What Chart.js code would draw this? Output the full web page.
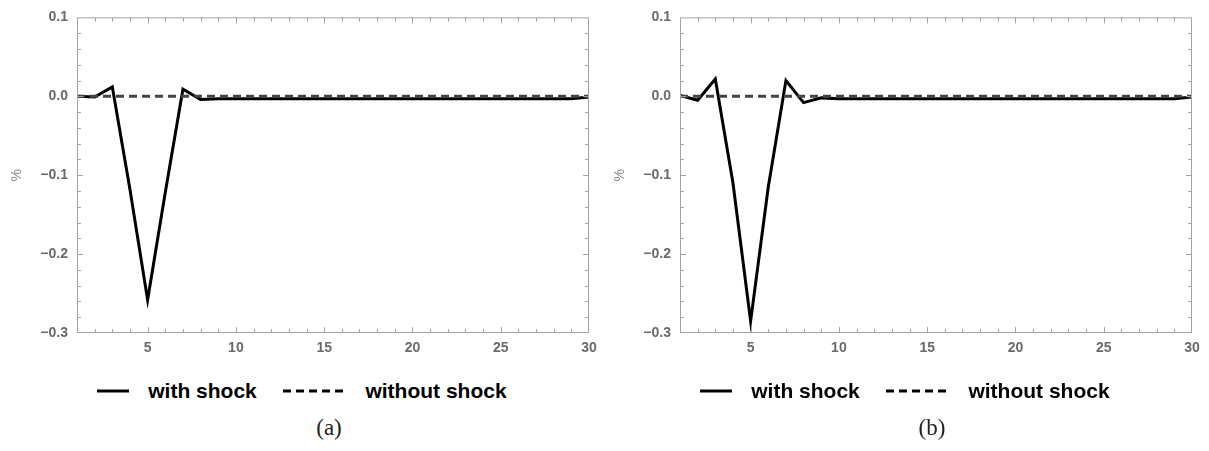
<!DOCTYPE html>
<html>
<head>
<meta charset="utf-8">
<script src="https://cdn.jsdelivr.net/npm/chart.js@4.4.0/dist/chart.umd.min.js"></script>
<style>
  body { margin: 0; background: #fff; width: 1209px; height: 451px; overflow: hidden; position: relative; }
  .panel { position: absolute; top: 0; width: 604px; height: 451px; }
  .panel canvas { position: absolute; left: 0; top: 0; }
  .legend { position: absolute; top: 378px; left: 0; width: 604px; text-align: center;
    font: bold 21px "Liberation Sans", Arial, sans-serif; color: #000; white-space: nowrap; }
  .legend span { display: inline-block; vertical-align: middle; }
  .legend svg { vertical-align: middle; }
  .caption { position: absolute; top: 415px; left: 0; width: 658px; text-align: center;
    font: 23px "Liberation Serif", "DejaVu Serif", serif; color: #222; }
</style>
</head>
<body>
<div class="panel" id="pa" style="left:0">
  <canvas id="chartA" width="604" height="360"></canvas>
  <div class="legend">
    <svg width="32" height="6"><line x1="0" y1="3" x2="32" y2="3" stroke="#000" stroke-width="3"/></svg>
    <span style="margin:0 20px 0 13px">with shock</span>
    <svg width="61" height="6"><line x1="0" y1="3" x2="61" y2="3" stroke="#000" stroke-width="3" stroke-dasharray="8 5"/></svg>
    <span style="margin-left:16px">without shock</span>
  </div>
  <div class="caption">(a)</div>
</div>
<div class="panel" id="pb" style="left:603px">
  <canvas id="chartB" width="604" height="360"></canvas>
  <div class="legend">
    <svg width="32" height="6"><line x1="0" y1="3" x2="32" y2="3" stroke="#000" stroke-width="3"/></svg>
    <span style="margin:0 20px 0 13px">with shock</span>
    <svg width="61" height="6"><line x1="0" y1="3" x2="61" y2="3" stroke="#000" stroke-width="3" stroke-dasharray="8 5"/></svg>
    <span style="margin-left:16px">without shock</span>
  </div>
  <div class="caption">(b)</div>
</div>
<script>
// periods 1..30
var periods = [1, 2, 3, 4, 5, 6, 7, 8, 9, 10, 11, 12, 13, 14, 15,
               16, 17, 18, 19, 20, 21, 22, 23, 24, 25, 26, 27, 28, 29, 30];

// panel (a)
var withShockA = [0, -0.001, 0.012, -0.118, -0.258, -0.122, 0.009, -0.004, -0.003, -0.003,
                  -0.003, -0.003, -0.003, -0.003, -0.003, -0.003, -0.003, -0.003, -0.003, -0.003,
                  -0.003, -0.003, -0.003, -0.003, -0.003, -0.003, -0.003, -0.003, -0.003, -0.001];
// panel (b)
var withShockB = [0.001, -0.005, 0.022, -0.11, -0.285, -0.115, 0.020, -0.008, -0.002, -0.003,
                  -0.003, -0.003, -0.003, -0.003, -0.003, -0.003, -0.003, -0.003, -0.003, -0.003,
                  -0.003, -0.003, -0.003, -0.003, -0.003, -0.003, -0.003, -0.003, -0.003, -0.001];
var withoutShock = [0, 0, 0, 0, 0, 0, 0, 0, 0, 0, 0, 0, 0, 0, 0,
                    0, 0, 0, 0, 0, 0, 0, 0, 0, 0, 0, 0, 0, 0, 0];

var xTicks = [5, 10, 15, 20, 25, 30];
var yTicks = [0.1, 0, -0.1, -0.2, -0.3];

var axisGray = '#a3a3a3';
var labelGray = '#6a6a6a';

// Mathematica style frame with inward ticks on all sides
var frameTicks = {
  id: 'frameTicks',
  afterDraw: function (chart) {
    var ctx = chart.ctx, a = chart.chartArea;
    var xs = chart.scales.x, ys = chart.scales.y;
    ctx.save();
    ctx.strokeStyle = axisGray;
    ctx.lineWidth = 1;
    ctx.strokeRect(a.left + 0.5, a.top + 0.5, a.right - a.left - 1, a.bottom - a.top - 1);
    ctx.beginPath();
    for (var i = 2; i < 30; i++) {
      var px = Math.round(xs.getPixelForValue(i)) + 0.5;
      var len = (i % 5 === 0) ? 6 : 4;
      ctx.moveTo(px, a.bottom); ctx.lineTo(px, a.bottom - len);
      ctx.moveTo(px, a.top); ctx.lineTo(px, a.top + len);
    }
    for (var k = -14; k <= 4; k++) {
      var py = Math.round(ys.getPixelForValue(k * 0.02)) + 0.5;
      var ylen = (k % 5 === 0) ? 6 : 4;
      ctx.moveTo(a.left, py); ctx.lineTo(a.left + ylen, py);
      ctx.moveTo(a.right, py); ctx.lineTo(a.right - ylen, py);
    }
    ctx.stroke();
    ctx.restore();
  }
};

function makeChart(id, shock) {
  return new Chart(document.getElementById(id), {
    type: 'line',
    data: {
      labels: periods,
      datasets: [{
        label: 'without shock',
        data: withoutShock,
        borderColor: '#444',
        borderWidth: 3,
        borderDash: [8, 5],
        pointRadius: 0,
        fill: false
      }, {
        label: 'with shock',
        data: shock,
        borderColor: '#000',
        borderWidth: 3,
        pointRadius: 0,
        fill: false
      }]
    },
    options: {
      responsive: false,
      animation: false,
      layout: { padding: { left: 0, right: 15, top: 14, bottom: 0 } },
      plugins: { legend: { display: false }, tooltip: { enabled: false } },
      scales: {
        x: {
          type: 'linear',
          min: 1,
          max: 30,
          grid: { display: false, drawTicks: false },
          border: { display: false },
          afterBuildTicks: function (s) {
            s.ticks = xTicks.map(function (v) { return { value: v }; });
          },
          afterFit: function (s) { s.height = 27; },
          ticks: {
            padding: 7,
            color: labelGray,
            font: { family: 'Liberation Sans', size: 14, weight: 'bold' }
          }
        },
        y: {
          min: -0.3,
          max: 0.1,
          grid: { display: false, drawTicks: false },
          border: { display: false },
          afterBuildTicks: function (s) {
            s.ticks = yTicks.map(function (v) { return { value: v }; });
          },
          afterFit: function (s) { s.width = 77; },
          title: {
            display: true,
            text: '%',
            color: '#888',
            padding: { top: 9, bottom: 0 },
            font: { family: 'Liberation Sans', size: 14 }
          },
          ticks: {
            padding: 9,
            color: labelGray,
            font: { family: 'Liberation Sans', size: 14, weight: 'bold' },
            callback: function (v) {
              var s = Math.abs(v).toFixed(1);
              return v < -1e-9 ? '\u2212' + s : s;
            }
          }
        }
      }
    },
    plugins: [frameTicks]
  });
}

makeChart('chartA', withShockA);
makeChart('chartB', withShockB);
</script>
</body>
</html>
